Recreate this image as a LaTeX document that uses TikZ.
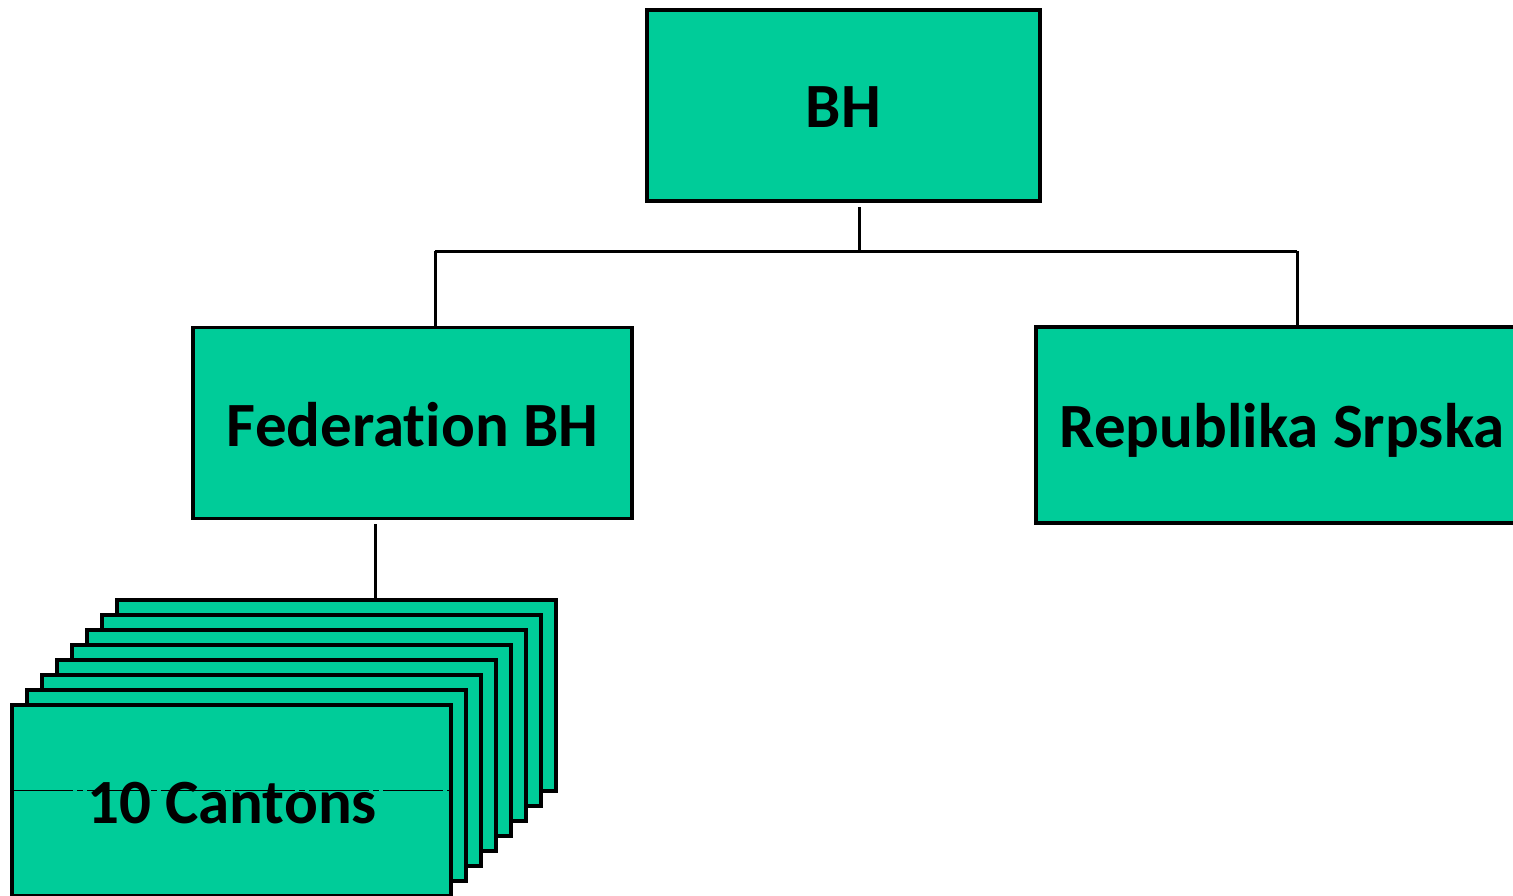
\documentclass[tikz,border=0pt]{standalone}
\usepackage{fontspec}
\setmainfont[Ligatures=NoCommon]{Carlito}
\definecolor{boxgreen}{RGB}{0,204,153}
\begin{document}
\begin{tikzpicture}[x=0.5pt,y=-0.5pt,
  box/.style={draw=black,line width=1.6pt,fill=boxgreen,inner sep=0pt,
    minimum width=219.5pt,minimum height=95.5pt},
  lbl/.style={inner sep=0pt,anchor=base,font=\fontsize{31.5}{36}\selectfont\bfseries},
  conn/.style={draw=black,line width=1.5pt}]
\useasboundingbox (0,0) rectangle (1513,895);
\node[box,minimum width=196.5pt] (bh) at (843.5,105.5) {};
\node[lbl] (bht) at (843.5,127) {BH};
\node[box] (fed) at (412.5,423) {};
\node[lbl] (fedt) at (412.5,446) {Federation BH};
\node[box,minimum width=246pt,minimum height=98pt] (rs) at (1282,425) {};
\node[lbl] (rst) at (1282,447) {Republika Srpska};
% cantons stack
\foreach \i in {0,...,7}{
  \node[box] (c\i) at ({336.5-15*\i},{695.5+15*\i}) {};
}
\node[lbl] (ct) at (232,823) {10 Cantons};
\coordinate (dl) at (13,790);
\coordinate (dr) at (449,790);
\draw[black,line width=0.5pt,dash pattern=on 30pt off 2pt on 3pt off 2pt] (dl) -- (dr);
% connectors
\coordinate (bhs) at (859,207);
\coordinate (hub) at (859,251);
\coordinate (hl) at (435,251);
\coordinate (hr) at (1297,251);
\draw[conn] (bhs) -- (hub);
\draw[conn] (hl) -- (hr);
\draw[conn] (hl) -- (hl |- fed.north);
\draw[conn] (hr) -- (hr |- rs.north);
\coordinate (fs) at (375,524);
\draw[conn] (fs) -- (fs |- c0.north);
\end{tikzpicture}
\end{document}
